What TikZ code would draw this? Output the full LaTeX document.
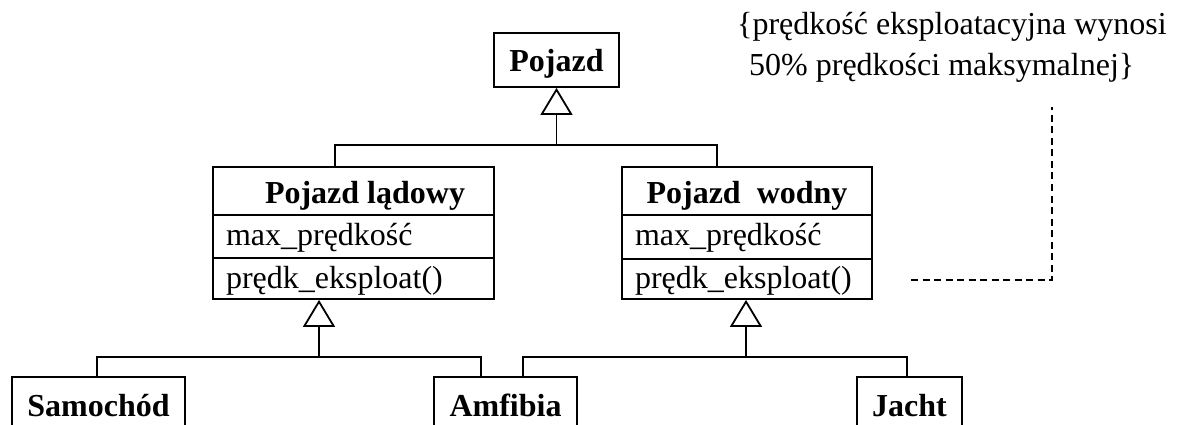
\documentclass[tikz,border=0pt]{standalone}
\usepackage{fontspec}
\setmainfont{Liberation Serif}
\usetikzlibrary{arrows.meta}
\begin{document}
\begin{tikzpicture}[x=1pt,y=-1pt,
  every node/.style={font=\fontsize{32}{41}\selectfont},
  cls/.style={draw=black, line width=1.8pt, inner sep=0pt, fill=white},
  ttl/.style={cls, font=\fontsize{32}{41}\selectfont\bfseries, text height=30pt, text depth=6pt, align=center},
  attr/.style={cls, align=left, inner xsep=13pt, text height=25pt, text depth=8pt},
  oper/.style={cls, align=left, inner xsep=13pt, text height=26pt, text depth=7pt},
  conn/.style={line width=1.8pt, line join=miter},
  gen/.style={conn, -{Triangle[fill=white, length=27pt, width=32pt]}},
  notelink/.style={line width=1.8pt, dash pattern=on 7pt off 4.5pt}
]
\useasboundingbox (0,0) rectangle (1189,425);

% classes
\node[ttl, minimum width=125pt, minimum height=54pt] (pojazd) at (556.5,60) {Pojazd};

\node[ttl, minimum width=281pt, minimum height=48pt] (ladt) at (353.5,191) {\hspace*{23pt}Pojazd lądowy};
\node[attr, text width=255pt, minimum height=43pt] (lada) at (353.5,236.5) {max\_prędkość};
\node[oper, text width=255pt, minimum height=41pt] (lado) at (353.5,278.5) {prędk\_eksploat()};

\node[ttl, minimum width=250pt, minimum height=48pt] (wodt) at (747,191) {Pojazd~~wodny};
\node[attr, text width=224pt, minimum height=44pt] (woda) at (747,237) {max\_prędkość};
\node[oper, text width=224pt, minimum height=40pt] (wodo) at (747,279) {prędk\_eksploat()};

\node[ttl, minimum width=173pt, minimum height=54pt] (samo) at (98.5,404) {Samochód};
\node[ttl, minimum width=143pt, minimum height=54pt] (amf) at (505.5,404) {Amfibia};
\node[ttl, minimum width=105pt, minimum height=54pt] (jacht) at (909.5,404) {Jacht};

% note (base anchor = baseline of the last line)
\node[anchor=base west, align=left, inner sep=0pt] (note) at (737,76)
  {\{prędkość eksploatacyjna wynosi\\\hspace*{12pt}50\% prędkości maksymalnej\}};

% generalisation: Pojazd
\coordinate (b1) at (335,145);
\coordinate (b2) at (717,145);
\coordinate (bt) at (556.5,145);
\draw[conn] (b1 |- ladt.north) -- (b1) -- (b2) -- (b2 |- wodt.north);
\draw[gen] (bt) -- (pojazd.south);

% generalisation: Pojazd ladowy
\coordinate (c1) at (97,357);
\coordinate (c2) at (481,357);
\coordinate (ct) at (319,357);
\draw[conn] (c1 |- samo.north) -- (c1) -- (c2) -- (c2 |- amf.north);
\draw[gen] (ct) -- (ct |- lado.south);

% generalisation: Pojazd wodny
\coordinate (d1) at (523,357);
\coordinate (d2) at (907,357);
\coordinate (dt) at (746,357);
\draw[conn] (d1 |- amf.north) -- (d1) -- (d2) -- (d2 |- jacht.north);
\draw[gen] (dt) -- (dt |- wodo.south);

% note link
\coordinate (n1) at (911,280);
\coordinate (n2) at (1052,107);
\draw[notelink] (n1) -| (n2);
\end{tikzpicture}
\end{document}
